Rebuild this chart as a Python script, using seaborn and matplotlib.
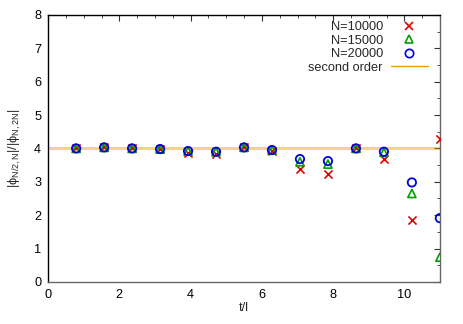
import numpy as np
import pandas as pd
import matplotlib
matplotlib.use("Agg")
import matplotlib.pyplot as plt
from matplotlib.lines import Line2D
from matplotlib.ticker import MultipleLocator
import seaborn as sns

# data
t = [np.pi / 4 * k for k in range(1, 15)]
n10000 = [4.00, 4.05, 4.00, 3.97, 3.85, 3.82, 4.05, 3.93, 3.38, 3.22, 4.00, 3.68, 1.85, 4.28]
n15000 = [4.00, 4.03, 4.00, 3.98, 3.92, 3.90, 4.03, 3.95, 3.60, 3.53, 4.00, 3.88, 2.65, 0.74]
n20000 = [4.00, 4.03, 4.00, 3.98, 3.92, 3.90, 4.03, 3.95, 3.68, 3.62, 4.00, 3.90, 2.98, 1.91]
second_order = 4.0
labels = ["N=10000", "N=15000", "N=20000"]

sns.set_theme(style="white")
plt.rcParams['font.family'] = ['Liberation Sans', 'DejaVu Sans']
plt.rcParams['mathtext.default'] = 'regular'

FS = 9.2
fig = plt.figure(figsize=(4.63, 3.24), dpi=100)
ax = fig.add_axes([0.104, 0.130, 0.846, 0.824])

ax.axhline(second_order, color='#e69f00', alpha=0.45, lw=2.2, zorder=1)

df = pd.DataFrame({"t": t, "a": n10000, "b": n15000, "c": n20000})
sns.scatterplot(data=df, x="t", y="a", marker="x", color="#e00000", s=34,
                linewidth=1.2, ax=ax, zorder=3)
sns.scatterplot(data=df, x="t", y="b", marker="^", facecolor="none",
                edgecolor="#00a000", s=34, linewidth=1.2, ax=ax, zorder=3)
sns.scatterplot(data=df, x="t", y="c", marker="o", facecolor="none",
                edgecolor="#0000e0", s=36, linewidth=1.3, ax=ax, zorder=3)

ax.set_xlim(0, 3.5 * np.pi)
ax.set_ylim(0, 8)
ax.xaxis.set_major_locator(MultipleLocator(2))
ax.xaxis.set_minor_locator(MultipleLocator(0.5))
ax.yaxis.set_major_locator(MultipleLocator(1))
ax.yaxis.set_minor_locator(MultipleLocator(0.5))
ax.tick_params(which='both', direction='in', top=True, right=True,
               labelsize=FS, colors='#333333', labelcolor='black', pad=5)
ax.tick_params(which='major', length=4, width=0.8)
ax.tick_params(which='minor', length=2, width=0.6)
for side in ['left', 'top']:
    ax.spines[side].set_color('black')
for side in ['right', 'bottom']:
    ax.spines[side].set_color('#666666')
for s in ax.spines.values():
    s.set_linewidth(1.0)

ax.set_xlabel("t/l", fontsize=FS, labelpad=1)
ax.set_ylabel(r"|ϕ$_{N/2,N}$|/|ϕ$_{N,2N}$|", fontsize=FS, labelpad=8)

handles = [
    Line2D([], [], ls='none', marker='x', color='#e00000', ms=6, mew=1.2),
    Line2D([], [], ls='none', marker='^', mfc='none', mec='#00a000', ms=6, mew=1.2),
    Line2D([], [], ls='none', marker='o', mfc='none', mec='#0000e0', ms=6, mew=1.2),
    Line2D([], [], color='#e69f00', lw=1.0),
]
ax.legend(handles, labels + ["second order"], loc='upper right',
          bbox_to_anchor=(0.985, 1.0), frameon=False, markerfirst=False,
          fontsize=FS, handlelength=2.9, labelspacing=0.12,
          handletextpad=0.6, borderaxespad=0.2, borderpad=0.3)

fig.savefig("out.png", dpi=100)
